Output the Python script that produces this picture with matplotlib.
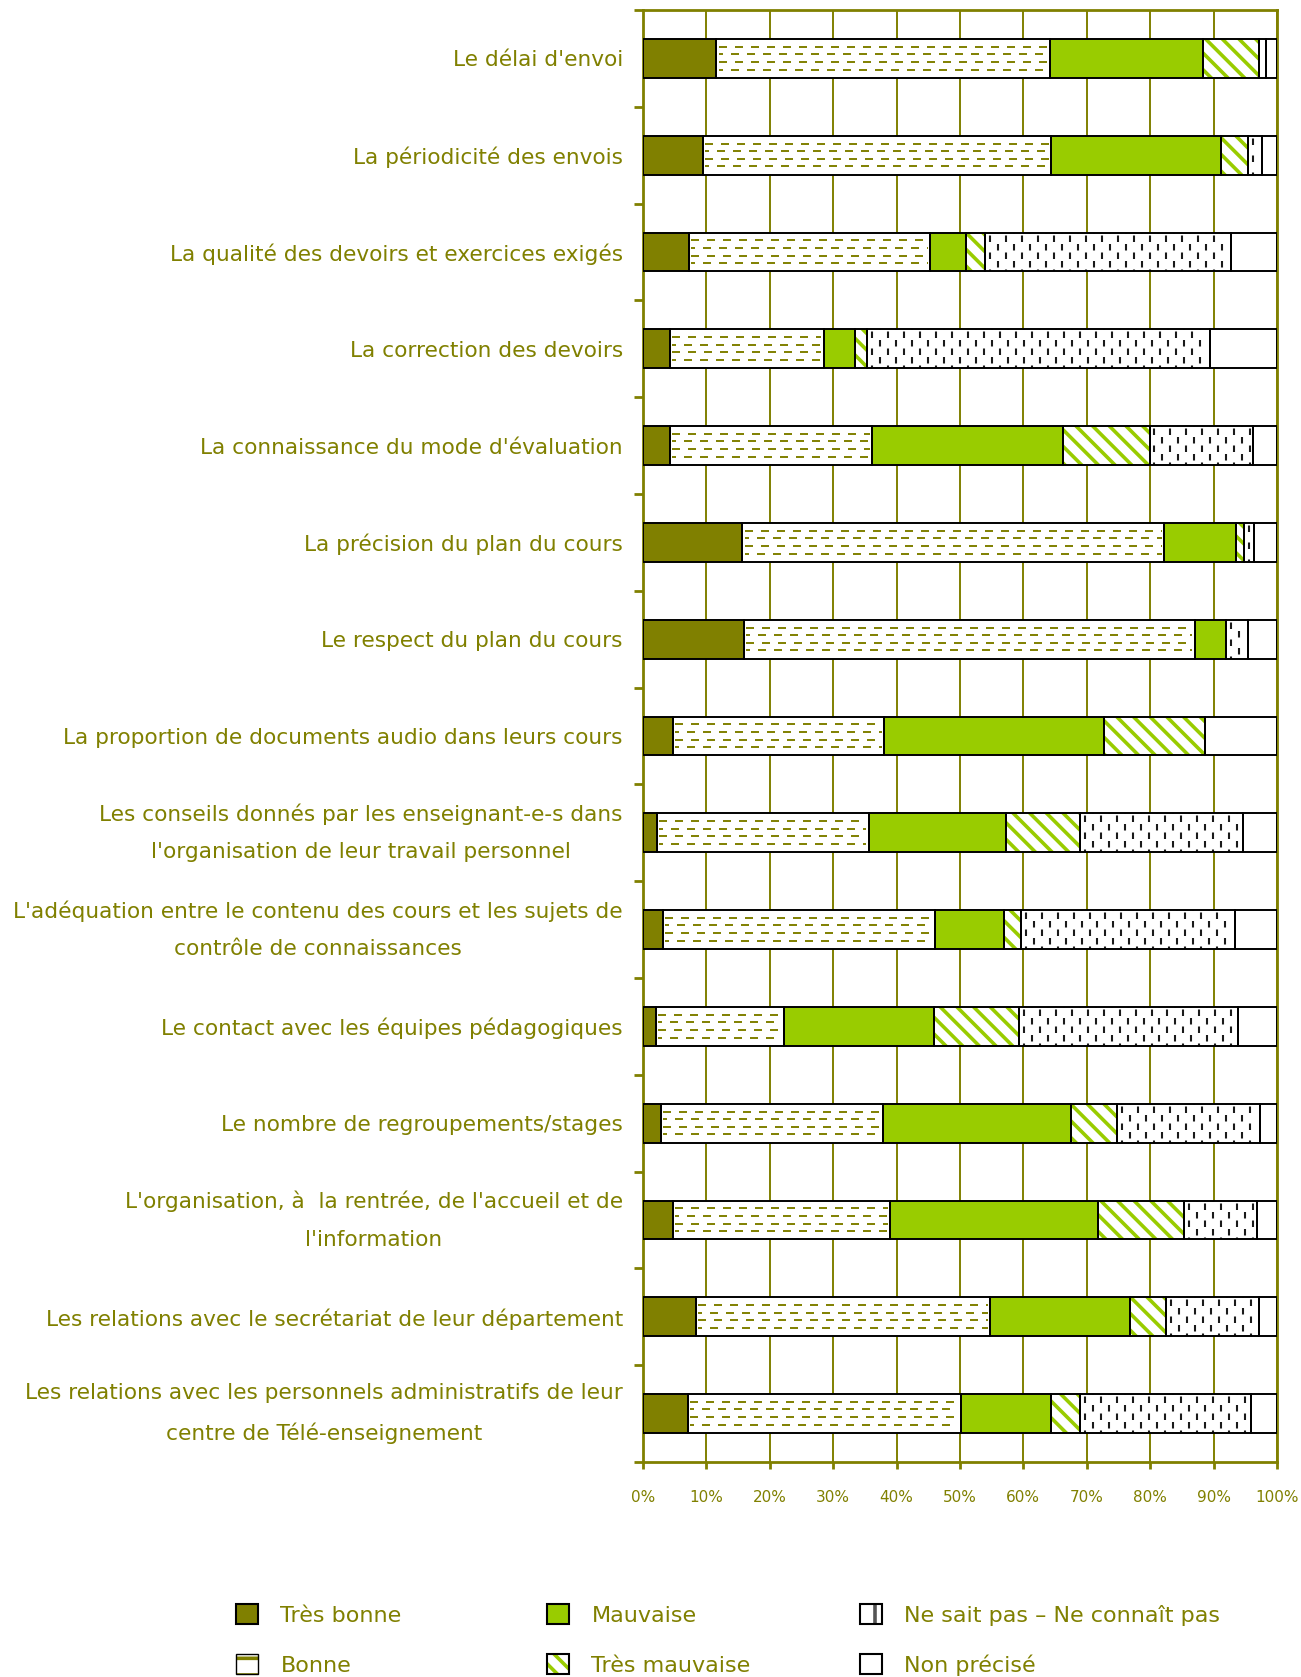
import numpy as np
import matplotlib.pyplot as plt
from matplotlib.patches import Patch
from matplotlib.legend_handler import HandlerTuple

OLIVE = "#808000"
GREEN = "#99cc00"
DARK = "#1a1a1a"

plt.rcParams["font.family"] = ["DejaVu Sans"]
plt.rcParams["hatch.linewidth"] = 2.6
plt.rcParams["lines.scale_dashes"] = False

questions = [
    "Le délai d'envoi",
    "La périodicité des envois",
    "La qualité des devoirs et exercices exigés",
    "La correction des devoirs",
    "La connaissance du mode d'évaluation",
    "La précision du plan du cours",
    "Le respect du plan du cours",
    "La proportion de documents audio dans leurs cours",
    "Les conseils donnés par les enseignant-e-s dans\nl'organisation de leur travail personnel",
    "L'adéquation entre le contenu des cours et les sujets de\ncontrôle de connaissances",
    "Le contact avec les équipes pédagogiques",
    "Le nombre de regroupements/stages",
    "L'organisation, à  la rentrée, de l'accueil et de\nl'information",
    "Les relations avec le secrétariat de leur département",
    "Les relations avec les personnels administratifs de leur\ncentre de Télé-enseignement",
]

# percentages per answer, in the order of the questions above
tres_bonne = [11.6, 9.4, 7.2, 4.3, 4.3, 15.7, 15.9, 4.7, 2.2, 3.1, 2.0, 2.8, 4.7, 8.3, 7.1]
bonne = [52.6, 55.0, 38.1, 24.2, 31.8, 66.5, 71.1, 33.3, 33.4, 42.9, 20.2, 35.1, 34.3, 46.4, 43.0]
mauvaise = [24.1, 26.8, 5.6, 5.0, 30.2, 11.4, 5.0, 34.8, 21.6, 11.0, 23.7, 29.6, 32.8, 22.1, 14.3]
tres_mauvaise = [8.9, 4.3, 3.1, 1.9, 13.6, 1.2, 0.0, 15.9, 11.8, 2.6, 13.4, 7.3, 13.6, 5.7, 4.6]
ne_sait_pas = [1.1, 2.1, 38.7, 54.0, 16.3, 1.6, 3.4, 0.0, 25.7, 33.8, 34.6, 22.5, 11.4, 14.6, 26.9]
non_precise = [1.7, 2.4, 7.3, 10.6, 3.8, 3.6, 4.6, 11.3, 5.3, 6.6, 6.1, 2.7, 3.2, 2.9, 4.1]

answers = ["Très bonne", "Bonne", "Mauvaise", "Très mauvaise",
           "Ne sait pas – Ne connaît pas", "Non précisé"]
xticks = list(range(0, 101, 10))

PX = 0.72  # points per pixel at dpi 100


def dashed_rows(ax, x0, x1, yc, h):
    # horizontal olive dashes for the "Bonne" segments
    if x1 - x0 <= 0:
        return
    pad = 0.35
    for k, frac in enumerate([0.2, 0.39, 0.59, 0.79]):
        yy = yc - h / 2 + frac * h
        off = 0 if k % 2 == 0 else 4 * PX
        ax.plot([x0 + pad, x1 - pad], [yy, yy], color=OLIVE, lw=1.4,
                ls=(off, (8 * PX, 8 * PX)), solid_capstyle="butt",
                dash_capstyle="butt", zorder=3)


def dash_columns(ax, x0, x1, yc, h, step=1.26):
    # staggered short vertical dashes for "Ne sait pas"
    if x1 - x0 <= 0:
        return
    xs = np.arange(x0 + step * 0.6, x1 - step * 0.3, step)
    for j, xx in enumerate(xs):
        off = (17 - 2.5) if j % 2 == 0 else (17 - 11)
        ax.plot([xx, xx], [yc - h / 2, yc + h / 2], color=DARK, lw=1.5,
                ls=(off * PX, (6.5 * PX, 10.5 * PX)),
                dash_capstyle="butt", zorder=3)


fig = plt.figure(figsize=(13.01, 16.77), dpi=100)
ax = fig.add_axes([0.4942, 0.1282, 0.4873, 0.8658])

y = np.arange(len(questions))
h = 0.4
series = [tres_bonne, bonne, mauvaise, tres_mauvaise, ne_sait_pas, non_precise]
left = np.zeros(len(questions))

for idx, vals in enumerate(series):
    vals = np.asarray(vals)
    if idx == 0:
        ax.barh(y, vals, h, left=left, color=OLIVE, lw=0, zorder=2)
    elif idx == 2:
        ax.barh(y, vals, h, left=left, color=GREEN, lw=0, zorder=2)
    elif idx == 3:
        ax.barh(y, vals, h, left=left, facecolor="white", edgecolor=GREEN,
                hatch="\\\\", lw=0, zorder=2)
    else:
        ax.barh(y, vals, h, left=left, color="white", lw=0, zorder=2)
    for i in range(len(questions)):
        if idx == 1:
            dashed_rows(ax, left[i], left[i] + vals[i], y[i], h)
        elif idx == 4:
            dash_columns(ax, left[i], left[i] + vals[i], y[i], h)
    # black outline of each segment
    ax.barh(y, vals, h, left=left, facecolor="none", edgecolor="black",
            lw=1.4, zorder=4)
    left = left + vals

ax.set_xlim(0, 100)
ax.set_ylim(len(questions) - 0.5, -0.5)
ax.set_xticks(xticks, [f"{v}%" for v in xticks])
ax.set_yticks(np.arange(len(questions) + 1) - 0.5)
ax.set_yticklabels([])
ax.set_yticks(y, questions, minor=True)

ax.grid(axis="x", color=OLIVE, lw=1.4)
ax.set_axisbelow(True)
for sp in ax.spines.values():
    sp.set_color(OLIVE)
    sp.set_linewidth(2)

ax.tick_params(axis="x", colors=OLIVE, labelsize=11, length=5, width=2, pad=15)
ax.tick_params(axis="y", which="major", colors=OLIVE, length=6.5, width=2)
ax.tick_params(axis="y", which="minor", length=0, pad=14.5,
               labelcolor=OLIVE, labelsize=15.6)
for t in ax.yaxis.get_minorticklabels():
    t.set_multialignment("center")
    t.set_linespacing(2.1)
    if "\n" in t.get_text():
        t.set_verticalalignment("center")

# legend, three columns of two entries
def stripe(ec, hatch, lw=1.5):
    return (Patch(facecolor="white", edgecolor=ec, hatch=hatch, lw=0),
            Patch(facecolor="none", edgecolor="black", lw=lw))


handles = [
    Patch(facecolor=OLIVE, edgecolor="black", lw=1.5),
    stripe(OLIVE, "-", lw=1.0),
    Patch(facecolor=GREEN, edgecolor="black", lw=1.5),
    stripe(GREEN, "\\\\"),
    stripe("#555555", "|"),
    Patch(facecolor="white", edgecolor="black", lw=1.5),
]

col_x = [236 / 1301, 547 / 1301, 860 / 1301]
for c in range(3):
    fig.legend(handles[2 * c:2 * c + 2], answers[2 * c:2 * c + 2],
               loc="upper left", bbox_to_anchor=(col_x[c], 1 - 1604 / 1677),
               frameon=False, fontsize=16, labelcolor=OLIVE,
               handlelength=1.0, handleheight=1.0, handletextpad=1.0,
               labelspacing=1.3, borderpad=0, borderaxespad=0,
               handler_map={tuple: HandlerTuple(ndivide=1, pad=0)})

fig.savefig("out.png", dpi=100)
